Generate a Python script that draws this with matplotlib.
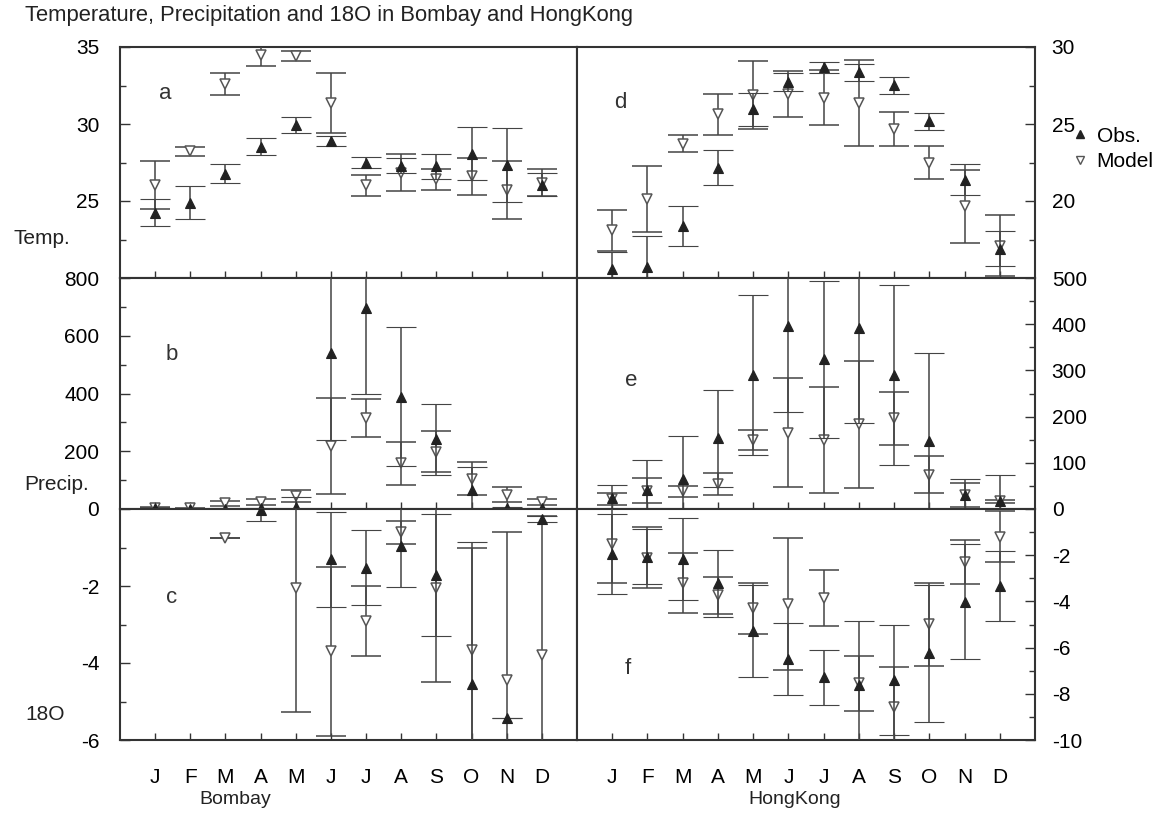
import matplotlib.pyplot as plt
from matplotlib.lines import Line2D
import numpy as np

plt.rcParams['font.family'] = ['Liberation Sans', 'DejaVu Sans']
plt.rcParams['axes.unicode_minus'] = False

months = ['J', 'F', 'M', 'A', 'M', 'J', 'J', 'A', 'S', 'O', 'N', 'D']
x = np.arange(1, 13)
nan = np.nan

# Bombay temperature (a)
bom_t_obs = [24.24, 24.89, 26.78, 28.52, 29.93, 28.91, 27.5, 27.3, 27.26, 28.07, 27.35, 26.07]
bom_t_obs_sd = [0.87, 1.07, 0.62, 0.54, 0.5, 0.33, 0.37, 0.48, 0.8, 1.72, 2.4, 0.76]
bom_t_mod = [26.04, 28.22, 32.61, 34.46, 34.39, 31.35, 26.02, 26.85, 26.4, 26.6, 25.72, 26.2]
bom_t_mod_sd = [1.57, 0.3, 0.72, 0.7, 0.33, 1.93, 0.7, 1.2, 0.7, 1.2, 1.9, 0.87]

# Bombay precipitation (b)
bom_p_obs = [2, 1, 1, 2, 8, 539, 695, 389, 241, 66, 3, 2]
bom_p_obs_sd = [1, 1, 1, 2, 34, 300, 297, 240, 123, 81, 3, 2]
bom_p_mod = [5, 3, 20, 24, 45, 218, 314, 158, 199, 105, 50, 23]
bom_p_mod_sd = [2, 2, 8, 11, 22, 165, 66, 75, 70, 57, 26, 10]

# Bombay 18O (c)
bom_o_obs = [nan, nan, nan, -0.02, nan, -1.31, -1.52, -0.96, -1.71, -4.55, -5.44, -0.27]
bom_o_obs_sd = [nan, nan, nan, 0.3, nan, 1.24, 0.97, 1.06, 1.58, 3.7, 0.0, 0.08]
bom_o_mod = [nan, nan, -0.75, nan, -2.06, -3.7, -2.91, -0.6, -2.06, -3.66, -4.44, -3.79]
bom_o_mod_sd = [nan, nan, 0.0, nan, 3.22, 2.2, 0.9, 0.3, 2.44, 2.64, 3.83, 3.6]

# HongKong temperature (d)
hk_t_obs = [15.57, 15.74, 18.39, 22.15, 25.96, 27.74, 28.67, 28.35, 27.52, 25.17, 21.39, 16.9]
hk_t_obs_sd = [1.15, 2.0, 1.3, 1.13, 1.07, 0.57, 0.38, 0.57, 0.54, 0.57, 1.0, 1.15]
hk_t_mod = [18.09, 20.13, 23.72, 25.63, 26.87, 26.93, 26.72, 26.35, 24.65, 22.5, 19.65, 17.1]
hk_t_mod_sd = [1.35, 2.13, 0.57, 1.33, 2.2, 1.48, 1.8, 2.8, 1.1, 1.1, 2.39, 2.0]

# HongKong precipitation (e)
hk_p_obs = [24, 42, 66, 153, 290, 396, 324, 391, 290, 148, 31, 18]
hk_p_obs_sd = [28, 65, 93, 105, 173, 187, 170, 204, 195, 190, 35, 56]
hk_p_mod = [22, 40, 38, 54, 149, 165, 150, 183, 196, 74, 30, 17]
hk_p_mod_sd = [13, 27, 11, 23, 22, 118, 115, 137, 58, 40, 26, 3]

# HongKong 18O (f)
hk_o_obs = [-1.95, -2.06, -2.18, -3.22, -5.28, -6.51, -7.29, -7.62, -7.4, -6.25, -4.01, -3.33]
hk_o_obs_sd = [1.75, 1.2, 1.78, 1.45, 2.0, 1.56, 1.19, 2.77, 2.4, 2.96, 2.5, 1.52]
hk_o_mod = [-1.5, -2.1, -3.22, -3.74, -4.3, -4.11, -3.85, -7.55, -8.59, -4.99, -2.3, -1.2]
hk_o_mod_sd = [1.7, 1.3, 1.3, 0.8, 1.1, 2.87, 1.2, 1.2, 1.76, 1.8, 0.95, 1.1]

line_col = '#444444'
frame_col = '#333333'

fig = plt.figure(figsize=(11.76, 8.17), dpi=100)

L0, W0 = 120 / 1176, 457 / 1176
L1, W1 = 577 / 1176, 458 / 1176
H = 231 / 817
bottoms = [1 - 278 / 817, 1 - 509 / 817, 1 - 740 / 817]


def draw_errors(ax, obs, obs_sd, mod, mod_sd):
    ax.errorbar(x, mod, yerr=mod_sd, fmt='v', ms=7.5, mfc='white', mec='#555555', mew=1.1,
                ecolor=line_col, elinewidth=1.1, capsize=10.5, capthick=1.1, zorder=3)
    ax.errorbar(x, obs, yerr=obs_sd, fmt='^', ms=7, mfc='#222222', mec='#222222', mew=0.8,
                ecolor=line_col, elinewidth=1.1, capsize=10.5, capthick=1.1, zorder=4)


def setup(ax, ylim, ticks, labels, minor, right, bottom_row, letter, lpos):
    ax.set_xlim(0, 13)
    ax.set_ylim(*ylim)
    ax.set_yticks(ticks)
    ax.set_yticklabels(labels)
    ax.set_yticks(minor, minor=True)
    ax.set_xticks(x)
    ax.set_xticklabels(months if bottom_row else [])
    for s in ax.spines.values():
        s.set_color(frame_col)
        s.set_linewidth(1.5)
    ax.tick_params(axis='x', which='both', direction='in', bottom=True, top=False,
                   length=5, width=1, color=frame_col, labelsize=15, pad=20)
    if right:
        ax.tick_params(axis='y', which='both', direction='in', left=False, right=True,
                       labelleft=False, labelright=True, color=frame_col, width=1)
        ax.tick_params(axis='y', which='major', length=7, pad=12, labelsize=15)
    else:
        ax.tick_params(axis='y', which='both', direction='in', left=True, right=False,
                       color=frame_col, width=1)
        ax.tick_params(axis='y', which='major', length=7, pad=15, labelsize=15)
    ax.tick_params(axis='y', which='minor', length=4)
    ax.text(lpos[0], lpos[1], letter, transform=ax.transAxes, fontsize=16,
            ha='left', va='center', color='#333333')


ax_a = fig.add_axes([L0, bottoms[0], W0, H])
ax_b = fig.add_axes([L0, bottoms[1], W0, H])
ax_c = fig.add_axes([L0, bottoms[2], W0, H])
ax_d = fig.add_axes([L1, bottoms[0], W1, H])
ax_e = fig.add_axes([L1, bottoms[1], W1, H])
ax_f = fig.add_axes([L1, bottoms[2], W1, H])

draw_errors(ax_a, bom_t_obs, bom_t_obs_sd, bom_t_mod, bom_t_mod_sd)
draw_errors(ax_b, bom_p_obs, bom_p_obs_sd, bom_p_mod, bom_p_mod_sd)
draw_errors(ax_c, bom_o_obs, bom_o_obs_sd, bom_o_mod, bom_o_mod_sd)
draw_errors(ax_d, hk_t_obs, hk_t_obs_sd, hk_t_mod, hk_t_mod_sd)
draw_errors(ax_e, hk_p_obs, hk_p_obs_sd, hk_p_mod, hk_p_mod_sd)
draw_errors(ax_f, hk_o_obs, hk_o_obs_sd, hk_o_mod, hk_o_mod_sd)

setup(ax_a, (20, 35), [20, 25, 30, 35], ['', '25', '30', '35'],
      [22.5, 27.5, 32.5], False, False, 'a', (0.085, 0.80))
setup(ax_b, (0, 800), [0, 200, 400, 600, 800], ['0', '200', '400', '600', '800'],
      [100, 300, 500, 700], False, False, 'b', (0.10, 0.667))
setup(ax_c, (-6, 0), [-6, -4, -2, 0], ['-6', '-4', '-2', ''],
      [-5, -3, -1], False, True, 'c', (0.10, 0.615))
setup(ax_d, (15, 30), [15, 20, 25, 30], ['', '20', '25', '30'],
      [17.5, 22.5, 27.5], True, False, 'd', (0.08, 0.758))
setup(ax_e, (0, 500), [0, 100, 200, 300, 400, 500], ['0', '100', '200', '300', '400', '500'],
      [50, 150, 250, 350, 450], True, False, 'e', (0.105, 0.558))
setup(ax_f, (-10, 0), [-10, -8, -6, -4, -2, 0], ['-10', '-8', '-6', '-4', '-2', ''],
      [-9, -7, -5, -3, -1], True, True, 'f', (0.105, 0.31))

# legend next to the right temperature axis
handles = [Line2D([], [], ls='none', marker='^', ms=6, mfc='#222222', mec='#222222'),
           Line2D([], [], ls='none', marker='v', ms=6, mfc='white', mec='#555555')]
ax_d.legend(handles, ['Obs.', 'Model'], loc='upper left', bbox_to_anchor=(1.08, 0.655),
            frameon=False, fontsize=15, handlelength=0.8, handletextpad=0.4,
            borderaxespad=0, borderpad=0, labelspacing=0.3)

fig.text(25 / 1176, 1 - 16 / 817, 'Temperature, Precipitation and 18O in Bombay and HongKong',
         fontsize=15.8, ha='left', va='center', color='#222222')
fig.text(14 / 1176, 1 - 238 / 817, 'Temp.', fontsize=15, ha='left', va='center', color='#222222')
fig.text(24 / 1176, 1 - 484 / 817, 'Precip.', fontsize=15, ha='left', va='center', color='#222222')
fig.text(25 / 1176, 1 - 715 / 817, '18O', fontsize=15, ha='left', va='center', color='#222222')
fig.text(235 / 1176, 1 - 800 / 817, 'Bombay', fontsize=14, ha='center', va='center', color='#222222')
fig.text(795 / 1176, 1 - 800 / 817, 'HongKong', fontsize=14, ha='center', va='center', color='#222222')

fig.savefig('out.png', dpi=100)
